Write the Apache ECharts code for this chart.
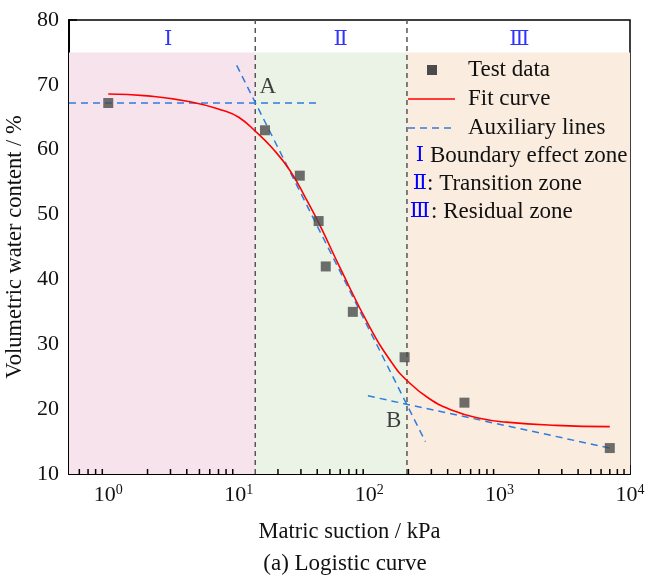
<!DOCTYPE html>
<html>
<head>
<meta charset="utf-8">
<script src="https://cdn.jsdelivr.net/npm/echarts@6/dist/echarts.min.js"></script>
<style>
  html, body { margin: 0; padding: 0; background: #fff; }
  #chart { width: 645px; height: 585px; }
</style>
</head>
<body>
<div id="chart"></div>
<script>
// Measured soil-water characteristic points (matric suction in kPa, volumetric water content in %)
const suction = [1, 15.9, 29.4, 41, 46.5, 75, 187, 538, 7000];
const waterContent = [67.2, 63, 56, 49, 42, 35, 28, 21, 14];

// Logistic fit curve, sampled
const fitSuction = [1, 2, 4.24, 7.62, 10, 13.5, 18, 24.7, 33.1, 41.8, 59.5, 100.9, 150, 193, 290, 438, 700, 1122, 2700, 7000];
const fitContent = [68.6, 68.3, 67.4, 66.05, 65.0, 62.8, 60.3, 56.8, 52.3, 48.4, 41.9, 32.7, 27.1, 24.5, 21.6, 19.8, 18.6, 18.0, 17.5, 17.3];

// Auxiliary tangent lines
const auxPlateau = [[0.5, 67.2], [39.2, 67.2]];
const auxSlope = [[9.65, 73], [270, 15]];
const auxResidual = [[97.9, 22.05], [7000, 14]];

// Zones
const zoneEdges = [13.4, 195];
const zoneSpan = [0.5, 13.4, 195, 10000];
const zoneTop = 75;
const zoneColors = ['#f7e3ec', '#ebf3e6', '#faede0'];
const zoneNames = ['Ⅰ', 'Ⅱ', 'Ⅲ'];
const zoneLabelAt = [[2.88, 77], [60.5, 77], [1416, 77]];

// Characteristic points
const pointNames = ['A', 'B'];
const pointLabelAt = [[16.74, 69.7], [153.9, 18.2]];

// Axis ranges
const xRange = [0.5, 10000];
const yRange = [10, 80];
const yStep = 10;

// minor ticks of the log axis (2..9 within each decade)
const minorTicks = [];
[0.1, 1, 10, 100, 1000].forEach(d => {
  for (let m = 2; m <= 9; m++) {
    const v = +(m * d).toPrecision(6);
    if (v > xRange[0] && v < xRange[1]) minorTicks.push(v);
  }
});

const FONT = '"Liberation Serif", "Times New Roman", serif';
const ROMAN = '"DejaVu Serif", "Liberation Serif", serif';
const BLUE_DASH = '#2f7ce0';

const chart = echarts.init(document.getElementById('chart'), null, { renderer: 'canvas' });

const auxStyle = { color: BLUE_DASH, width: 1.5, type: [7, 5] };

const series = [];

// shaded zones
series.push({
  type: 'line', data: [], z: 1, silent: true,
  markArea: {
    silent: true,
    data: zoneColors.map((c, i) => [
      { xAxis: zoneSpan[i], yAxis: yRange[0], itemStyle: { color: c } },
      { xAxis: zoneSpan[i + 1], yAxis: zoneTop }
    ])
  }
});

// zone boundaries
zoneEdges.forEach(x => {
  series.push({
    type: 'line', z: 3, silent: true, symbol: 'none',
    data: [[x, yRange[0]], [x, yRange[1]]],
    lineStyle: { color: '#555', width: 1.5, type: [5, 4] }
  });
});

// auxiliary lines
[auxPlateau, auxSlope, auxResidual].forEach(seg => {
  series.push({
    type: 'line', z: 4, silent: true, symbol: 'none',
    data: seg, lineStyle: auxStyle
  });
});

// fit curve
series.push({
  type: 'line', z: 5, symbol: 'none', smooth: 0.5,
  data: fitSuction.map((x, i) => [x, fitContent[i]]),
  lineStyle: { color: '#ff0000', width: 1.6 }
});

// test data
series.push({
  type: 'scatter', z: 6, symbol: 'rect', symbolSize: 10,
  data: suction.map((x, i) => [x, waterContent[i]]),
  itemStyle: { color: '#4b4b4b' }
});

// zone numerals
series.push({
  type: 'scatter', z: 7, symbolSize: 0, silent: true,
  data: zoneLabelAt.map((p, i) => ({ value: p, name: zoneNames[i] })),
  label: {
    show: true, position: 'inside', formatter: '{b}',
    color: '#0000ff', fontFamily: ROMAN, fontSize: 21
  }
});

// point markers A, B
series.push({
  type: 'scatter', z: 7, symbolSize: 0, silent: true,
  data: pointLabelAt.map((p, i) => ({ value: p, name: pointNames[i] })),
  label: {
    show: true, position: 'inside', formatter: '{b}',
    color: '#111', fontFamily: FONT, fontSize: 23
  }
});

// minor ticks along the bottom axis
series.push({
  type: 'custom', z: 8, silent: true, clip: false,
  data: minorTicks.map(v => [v, yRange[0]]),
  renderItem: (params, api) => {
    const p = api.coord([api.value(0), api.value(1)]);
    return {
      type: 'line',
      shape: { x1: p[0], y1: p[1], x2: p[0], y2: p[1] - 5 },
      style: { stroke: '#000', lineWidth: 1.5 }
    };
  }
});

// legend drawn as graphic rows
const legendX = 408, legendText = 468;
const rowY = [70, 99, 128, 156, 184, 212];
const txt = (x, y, text, extra) => ({
  type: 'text', x: x, y: y, z: 100,
  style: Object.assign({
    text: text, fill: '#111', fontFamily: FONT, fontSize: 23,
    align: 'left', verticalAlign: 'middle',
    textAlign: 'left', textVerticalAlign: 'middle'
  }, extra || {})
});
const romanStyle = { fill: '#0000ff', fontFamily: ROMAN, fontSize: 21, align: 'center', textAlign: 'center' };

const graphic = [
  { type: 'rect', z: 100, shape: { x: 427, y: rowY[0] - 5, width: 10, height: 10 }, style: { fill: '#4b4b4b' } },
  txt(legendText, rowY[0], 'Test data'),
  { type: 'line', z: 100, shape: { x1: legendX, y1: rowY[1], x2: legendX + 47, y2: rowY[1] }, style: { stroke: '#ff0000', lineWidth: 1.6 } },
  txt(legendText, rowY[1], 'Fit curve'),
  { type: 'line', z: 100, shape: { x1: legendX, y1: rowY[2], x2: legendX + 47, y2: rowY[2] }, style: { stroke: BLUE_DASH, lineWidth: 1.5, lineDash: [7, 5] } },
  txt(legendText, rowY[2], 'Auxiliary lines'),
  txt(420, rowY[3], 'Ⅰ', romanStyle),
  txt(430, rowY[3], 'Boundary effect zone'),
  txt(420, rowY[4], 'Ⅱ', romanStyle),
  txt(427, rowY[4], ': Transition zone'),
  txt(420, rowY[5], 'Ⅲ', romanStyle),
  txt(431, rowY[5], ': Residual zone'),
  txt(345, 564, '(a) Logistic curve', { align: 'center', textAlign: 'center', fontSize: 23 })
];

const option = {
  animation: false,
  backgroundColor: '#ffffff',
  grid: {
    left: 69, right: 15, top: 20, bottom: 111,
    outerBoundsMode: 'none', containLabel: false,
    show: true, borderColor: '#000', borderWidth: 1.5, backgroundColor: 'transparent'
  },
  xAxis: {
    type: 'log', logBase: 10, min: xRange[0], max: xRange[1],
    name: 'Matric suction / kPa', nameLocation: 'middle', nameGap: 47,
    nameTextStyle: { fontFamily: FONT, fontSize: 22.5, color: '#111' },
    axisLine: { lineStyle: { color: '#000', width: 2 } },
    axisTick: { inside: true, length: 9, lineStyle: { color: '#000', width: 1.5 } },
    splitLine: { show: false },
    axisLabel: {
      margin: 9, color: '#111', fontFamily: FONT, hideOverlap: false,
      formatter: v => {
        const e = Math.log10(v);
        if (Math.abs(e - Math.round(e)) > 1e-6) return '';
        return '{b|10}{s|' + Math.round(e) + '}';
      },
      rich: {
        b: { fontFamily: FONT, fontSize: 22, color: '#111', lineHeight: 24 },
        s: { fontFamily: FONT, fontSize: 14, color: '#111', verticalAlign: 'top', lineHeight: 14 }
      }
    }
  },
  yAxis: {
    type: 'value', min: yRange[0], max: yRange[1], interval: yStep,
    name: 'Volumetric water content / %', nameLocation: 'middle', nameGap: 38, nameRotate: 90,
    nameTextStyle: { fontFamily: FONT, fontSize: 22.5, color: '#111' },
    axisLine: { lineStyle: { color: '#000', width: 2 } },
    axisTick: { inside: true, length: 8, lineStyle: { color: '#000', width: 1.5 } },
    splitLine: { show: false },
    axisLabel: { margin: 10, color: '#111', fontFamily: FONT, fontSize: 22 }
  },
  series: series,
  graphic: graphic
};

chart.setOption(option);
</script>
</body>
</html>
